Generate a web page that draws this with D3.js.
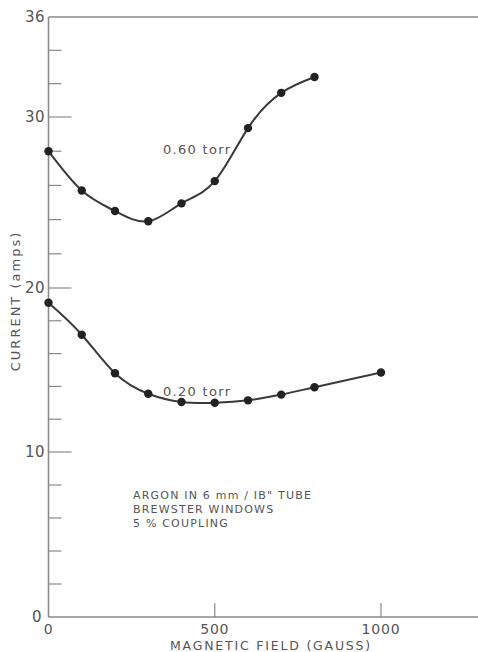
<!DOCTYPE html>
<html>
<head>
<meta charset="utf-8">
<script src="https://cdn.jsdelivr.net/npm/d3@7"></script>
<style>
  body { margin: 0; background: #fff; }
  text { font-family: "DejaVu Sans", sans-serif; fill: #555; }
</style>
</head>
<body>
<div id="chart"></div>
<script>
// magnetic field (gauss) and current (amps)
var field60 = [0, 100, 200, 300, 400, 500, 600, 700, 800];
var current60 = [28.0, 25.7, 24.5, 23.9, 24.95, 26.25, 29.35, 31.45, 32.4];
var field20 = [0, 100, 200, 300, 400, 500, 600, 700, 800, 1000];
var current20 = [19.1, 17.15, 14.8, 13.55, 13.05, 13.0, 13.15, 13.5, 13.95, 14.85];
var yMajor = [0, 10, 20, 30, 36];
var xMajor = [0, 500, 1000];
var notes = ["ARGON IN 6 mm / IB\" TUBE", "BREWSTER WINDOWS", "5 % COUPLING"];

var width = 478, height = 652;

var svg = d3.select("#chart").append("svg")
  .attr("width", width)
  .attr("height", height);

var x = d3.scaleLinear()
  .domain([0, 1000])
  .range([48.5, 381]);

// old photo is a little stretched, so use a piecewise scale
var y = d3.scaleLinear()
  .domain([0, 10, 20, 30, 36])
  .range([617, 452, 288, 117, 17]);

var axisColor = "#8a8a8a";

// left axis
svg.append("line")
  .attr("x1", x(0)).attr("x2", x(0))
  .attr("y1", y(36)).attr("y2", y(0))
  .attr("stroke", axisColor).attr("stroke-width", 1.6);
// bottom axis
svg.append("line")
  .attr("x1", x(0)).attr("x2", width)
  .attr("y1", y(0)).attr("y2", y(0))
  .attr("stroke", axisColor).attr("stroke-width", 1.6);
// top frame line
svg.append("line")
  .attr("x1", x(0)).attr("x2", width)
  .attr("y1", y(36)).attr("y2", y(36))
  .attr("stroke", axisColor).attr("stroke-width", 1.6);

// y ticks, inward: minor every 2, long at the tens
var yTicks = d3.range(2, 36, 2);
svg.selectAll(".ytick")
  .data(yTicks)
  .enter().append("line")
  .attr("x1", x(0))
  .attr("x2", function(d) { return x(0) + (d % 10 === 0 ? 23 : 13); })
  .attr("y1", function(d) { return y(d); })
  .attr("y2", function(d) { return y(d); })
  .attr("stroke", axisColor).attr("stroke-width", 1.2);

svg.selectAll(".ylab")
  .data(yMajor)
  .enter().append("text")
  .attr("x", function(d) { return d === 0 ? 42 : 45; })
  .attr("y", function(d) { return y(d) + 5; })
  .attr("text-anchor", "end")
  .attr("font-size", 15)
  .attr("letter-spacing", 0.5)
  .text(function(d) { return d; });

// x ticks, upward
svg.selectAll(".xtick")
  .data([500, 1000])
  .enter().append("line")
  .attr("x1", function(d) { return x(d); })
  .attr("x2", function(d) { return x(d); })
  .attr("y1", y(0))
  .attr("y2", y(0) - 14)
  .attr("stroke", axisColor).attr("stroke-width", 1.2);

svg.selectAll(".xlab")
  .data(xMajor)
  .enter().append("text")
  .attr("x", function(d) { return x(d); })
  .attr("y", 634)
  .attr("text-anchor", "middle")
  .attr("font-size", 14)
  .attr("letter-spacing", 0.8)
  .text(function(d) { return d; });

// axis titles
svg.append("text")
  .attr("x", 271)
  .attr("y", 650)
  .attr("text-anchor", "middle")
  .attr("font-size", 12.5)
  .attr("letter-spacing", 1.8)
  .text("MAGNETIC FIELD (GAUSS)");

svg.append("text")
  .attr("transform", "translate(20,301) rotate(-90)")
  .attr("text-anchor", "middle")
  .attr("font-size", 13)
  .attr("letter-spacing", 2)
  .text("CURRENT (amps)");

// curves
var line = d3.line()
  .x(function(d) { return x(d[0]); })
  .y(function(d) { return y(d[1]); })
  .curve(d3.curveNatural);

var series = [d3.zip(field60, current60), d3.zip(field20, current20)];

series.forEach(function(pts) {
  svg.append("path")
    .datum(pts)
    .attr("d", line)
    .attr("fill", "none")
    .attr("stroke", "#3a3a3a")
    .attr("stroke-width", 2);

  svg.selectAll(null)
    .data(pts)
    .enter().append("circle")
    .attr("cx", function(d) { return x(d[0]); })
    .attr("cy", function(d) { return y(d[1]); })
    .attr("r", 4.2)
    .attr("fill", "#222");
});

// curve labels
svg.append("text")
  .attr("x", 163).attr("y", 154)
  .attr("font-size", 13)
  .attr("letter-spacing", 1.3)
  .text("0.60 torr");

svg.append("text")
  .attr("x", 163).attr("y", 396)
  .attr("font-size", 13)
  .attr("letter-spacing", 1.3)
  .text("0.20 torr");

// note block
svg.selectAll(".note")
  .data(notes)
  .enter().append("text")
  .attr("x", 133)
  .attr("y", function(d, i) { return 499 + i * 14; })
  .attr("font-size", 11)
  .attr("letter-spacing", 1.2)
  .text(function(d) { return d; });
</script>
</body>
</html>
